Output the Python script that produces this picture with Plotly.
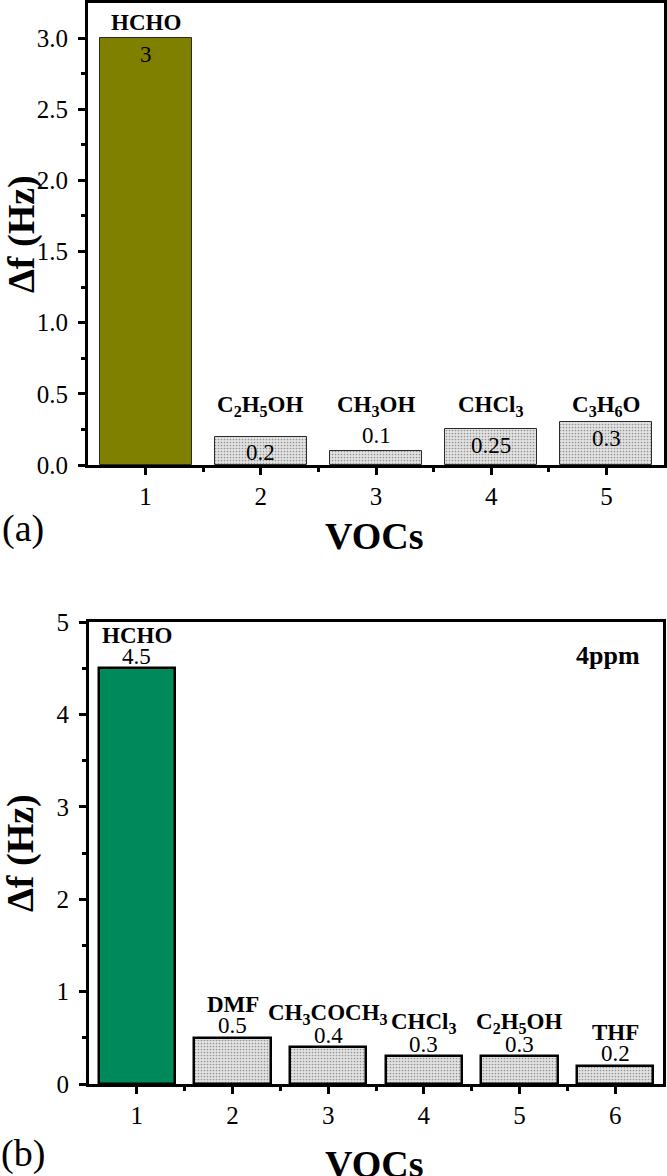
import plotly.graph_objects as go

W, H = 667, 1176

# ---- data: panel (a)
a_pos = [1, 2, 3, 4, 5]
a_names = ["HCHO", "C<sub>2</sub>H<sub>5</sub>OH", "CH<sub>3</sub>OH", "CHCl<sub>3</sub>", "C<sub>3</sub>H<sub>6</sub>O"]
a_vals = [3, 0.2, 0.1, 0.25, 0.3]
a_yticks = [0.0, 0.5, 1.0, 1.5, 2.0, 2.5, 3.0]

# ---- data: panel (b)
b_pos = [1, 2, 3, 4, 5, 6]
b_names = ["HCHO", "DMF", "CH<sub>3</sub>COCH<sub>3</sub>", "CHCl<sub>3</sub>", "C<sub>2</sub>H<sub>5</sub>OH", "THF"]
b_vals = [4.5, 0.5, 0.4, 0.3, 0.3, 0.2]
b_yticks = [0, 1, 2, 3, 4, 5]

FONT = "Liberation Serif, Times New Roman, serif"


def px_x(x):
    return x / W


def px_y(y):
    return 1 - y / H


fig = go.Figure()

GRAY = "#e2e2e2"
pat_a = dict(shape=[""] + ["."] * (len(a_vals) - 1), fgcolor="#a9a9a9",
             size=3, solidity=0.25, fillmode="overlay")
pat_b = dict(shape=[""] + ["."] * (len(b_vals) - 1), fgcolor="#a9a9a9",
             size=3, solidity=0.25, fillmode="overlay")

fig.add_trace(go.Bar(
    x=a_pos, y=a_vals, width=0.8, xaxis="x", yaxis="y",
    marker=dict(color=["#808000"] + [GRAY] * (len(a_vals) - 1),
                line=dict(color="#2a2a2a", width=1), pattern=pat_a),
    showlegend=False, hoverinfo="skip"))

fig.add_trace(go.Bar(
    x=b_pos, y=b_vals, width=0.8, xaxis="x2", yaxis="y2",
    marker=dict(color=["#008A5B"] + [GRAY] * (len(b_vals) - 1),
                line=dict(color="#000000", width=2.5), pattern=pat_b),
    showlegend=False, hoverinfo="skip"))

tickfont = dict(family=FONT, size=25, color="black")

common = dict(showline=True, linewidth=3, linecolor="black", mirror=True,
              ticks="outside", ticklen=7, tickwidth=3, tickcolor="black",
              showgrid=False, zeroline=False, tickfont=tickfont,
              automargin=False)


def minor(vals):
    return dict(tickvals=vals, ticks="outside", ticklen=4, tickwidth=3, tickcolor="black")


fig.update_layout(
    template="none",
    width=W, height=H,
    margin=dict(l=0, r=0, t=0, b=0, pad=0),
    paper_bgcolor="white", plot_bgcolor="white",
    bargap=0,
    xaxis=dict(domain=[px_x(88), px_x(664)], range=[0.5, len(a_pos) + 0.5],
               tickvals=a_pos, anchor="y", ticklabelstandoff=0,
               minor=minor([p + 0.5 for p in a_pos[:-1]]), **common),
    yaxis=dict(domain=[px_y(465), px_y(3)], range=[0, 3.246],
               tickvals=a_yticks, tickformat=".1f", anchor="x", ticklabelstandoff=5,
               minor=minor([t + 0.25 for t in a_yticks]), **common),
    xaxis2=dict(domain=[px_x(89), px_x(663)], range=[0.5, len(b_pos) + 0.5],
                tickvals=b_pos, anchor="y2", ticklabelstandoff=0,
                minor=minor([p + 0.5 for p in b_pos[:-1]]), **common),
    yaxis2=dict(domain=[px_y(1084), px_y(622)], range=[0, 5],
                tickvals=b_yticks, anchor="x2", ticklabelstandoff=5,
                minor=minor([t + 0.5 for t in b_yticks[:-1]]), **common),
)

ann = []
name_font = dict(family=FONT, size=23, color="black", weight="bold")
val_font = dict(family=FONT, size=23, color="black")

# panel (a) labels
for p, n, v in zip(a_pos, a_names, a_vals):
    ann.append(dict(x=p, y=max(v, 0.3), xref="x", yref="y", text=n, showarrow=False,
                    font=name_font, xanchor="center", yanchor="middle", yshift=16))
    inside = v >= 0.2
    ann.append(dict(x=p, y=v, xref="x", yref="y", text=f"{v:g}", showarrow=False,
                    font=val_font, xanchor="center", yanchor="middle",
                    yshift=-16 if inside else 15))

# panel (b) labels
for p, n, v in zip(b_pos, b_names, b_vals):
    ann.append(dict(x=p, y=v, xref="x2", yref="y2", text=n, showarrow=False,
                    font=name_font, xanchor="center", yanchor="middle", yshift=33))
    ann.append(dict(x=p, y=v, xref="x2", yref="y2", text=f"{v:g}", showarrow=False,
                    font=val_font, xanchor="center", yanchor="middle", yshift=12))

ann.append(dict(x=px_x(608), y=px_y(655), xref="paper", yref="paper", text="4ppm",
                xanchor="center", yanchor="middle",
                showarrow=False, font=dict(family=FONT, size=26, color="black", weight="bold")))

# axis titles and panel tags
title_font = dict(family=FONT, size=38, color="black", weight="bold")
for yc in (234, 853):
    ann.append(dict(x=px_x(21), y=px_y(yc), xref="paper", yref="paper", text="Δf (Hz)",
                    textangle=-90, xanchor="center", yanchor="middle",
                    showarrow=False, font=title_font))
for yc in (536, 1164):
    ann.append(dict(x=px_x(374), y=px_y(yc), xref="paper", yref="paper", text="VOCs",
                    xanchor="center", yanchor="middle",
                    showarrow=False, font=title_font))
for yc, t in ((528, "(a)"), (1153, "(b)")):
    ann.append(dict(x=px_x(23), y=px_y(yc), xref="paper", yref="paper", text=t,
                    xanchor="center", yanchor="middle",
                    showarrow=False, font=dict(family=FONT, size=38, color="black")))

fig.update_layout(annotations=ann)

fig.write_html("out.html", config={"displayModeBar": False},
               post_script="document.body.style.margin='0px';document.body.style.overflow='hidden';")
